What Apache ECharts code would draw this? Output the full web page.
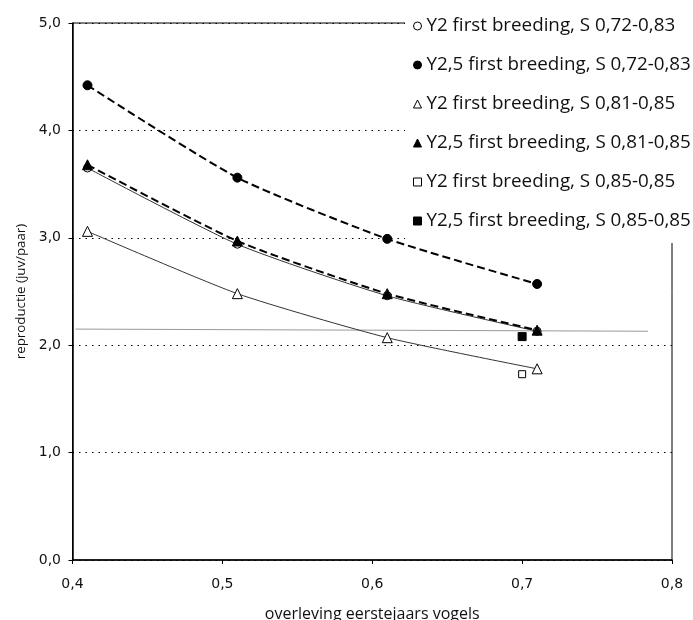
<!DOCTYPE html>
<html>
<head>
<meta charset="utf-8">
<script src="https://cdn.jsdelivr.net/npm/echarts@6/dist/echarts.min.js"></script>
<style>
  html, body { margin: 0; padding: 0; background: #fff; }
  #chart { width: 693px; height: 620px; }
</style>
</head>
<body>
<div id="chart"></div>
<script>
// Survival of first-year birds (x) against required reproduction (y)
const survivalX = [0.41, 0.51, 0.61, 0.71];
const y2Low = [3.65, 2.94, 2.46, 2.13];     // Y2 first breeding, S 0,72-0,83
const y25Low = [4.42, 3.56, 2.99, 2.57];    // Y2,5 first breeding, S 0,72-0,83
const y2Mid = [3.06, 2.48, 2.07, 1.78];     // Y2 first breeding, S 0,81-0,85
const y25Mid = [3.68, 2.97, 2.48, 2.14];    // Y2,5 first breeding, S 0,81-0,85
const singleX = [0.70];
const y2High = [1.73];                      // Y2 first breeding, S 0,85-0,85
const y25High = [2.08];                     // Y2,5 first breeding, S 0,85-0,85
const refX = [0.402, 0.784];                // current reproduction level
const refY = [2.15, 2.13];

const seriesNames = [
  'Y2 first breeding, S 0,72-0,83',
  'Y2,5 first breeding, S 0,72-0,83',
  'Y2 first breeding, S 0,81-0,85',
  'Y2,5 first breeding, S 0,81-0,85',
  'Y2 first breeding, S 0,85-0,85',
  'Y2,5 first breeding, S 0,85-0,85'
];

const pairs = (xs, ys) => xs.map((x, i) => [x, ys[i]]);
const comma = v => v.toFixed(1).replace('.', ',');

const openStyle = { color: '#fff', borderColor: '#000', borderWidth: 1 };
const fillStyle = { color: '#000', borderColor: '#000', borderWidth: 1 };
const thinLine = { color: '#333', width: 1, type: 'solid' };
const dashLine = { color: '#000', width: 2, type: [8, 4] };

const chart = echarts.init(document.getElementById('chart'), null, { renderer: 'canvas' });

chart.setOption({
  animation: false,
  backgroundColor: '#fff',
  grid: {
    left: 72.5, right: 21, top: 23, bottom: 60,
    outerBoundsMode: 'none',
    show: true, borderColor: '#000', borderWidth: 1, backgroundColor: 'transparent'
  },
  xAxis: {
    type: 'value', min: 0.4, max: 0.8, interval: 0.1,
    name: 'overleving eerstejaars vogels',
    nameLocation: 'middle', nameGap: 46,
    nameTextStyle: { fontFamily: 'Open Sans', fontSize: 16, color: '#111' },
    axisLine: { show: true, lineStyle: { color: '#000', width: 1.5 } },
    axisTick: { show: true, inside: false, length: 4, lineStyle: { color: '#000' } },
    axisLabel: { formatter: comma, margin: 17, fontFamily: 'DejaVu Sans', fontSize: 14, color: '#111' },
    splitLine: { show: false }
  },
  yAxis: {
    type: 'value', min: 0, max: 5, interval: 1,
    name: 'reproductie (juv/paar)',
    nameLocation: 'middle', nameGap: 45, nameRotate: 90,
    nameTextStyle: { fontFamily: 'Open Sans', fontSize: 13.3, color: '#111' },
    axisLine: { show: true, lineStyle: { color: '#000', width: 1.5 } },
    axisTick: { show: true, inside: false, length: 4, lineStyle: { color: '#000' } },
    axisLabel: { formatter: comma, margin: 11.5, fontFamily: 'DejaVu Sans', fontSize: 14, color: '#111' },
    splitLine: { show: true, lineStyle: { color: '#000', width: 1, type: [1.5, 5] } }
  },
  legend: {
    orient: 'vertical', left: 405, top: 0,
    padding: [16, 6, 12, 8],
    backgroundColor: '#fff',
    itemWidth: 8, itemHeight: 8, itemGap: 19,
    textStyle: { fontFamily: 'Open Sans', fontSize: 18.8, color: '#111', lineHeight: 20 },
    data: [
      { name: seriesNames[0], icon: 'circle', itemStyle: openStyle },
      { name: seriesNames[1], icon: 'circle', itemStyle: fillStyle },
      { name: seriesNames[2], icon: 'triangle', itemStyle: openStyle },
      { name: seriesNames[3], icon: 'triangle', itemStyle: fillStyle },
      { name: seriesNames[4], icon: 'rect', itemStyle: openStyle },
      { name: seriesNames[5], icon: 'rect', itemStyle: fillStyle }
    ]
  },
  series: [
    {
      name: 'referentie', type: 'line', data: pairs(refX, refY),
      symbol: 'none', silent: true, z: 1,
      lineStyle: { color: '#999', width: 1 }
    },
    {
      name: seriesNames[0], type: 'line', data: pairs(survivalX, y2Low), smooth: 0.2,
      symbol: 'circle', symbolSize: 8, itemStyle: openStyle, lineStyle: thinLine
    },
    {
      name: seriesNames[1], type: 'line', data: pairs(survivalX, y25Low), smooth: 0.2,
      symbol: 'circle', symbolSize: 9, itemStyle: fillStyle, lineStyle: dashLine
    },
    {
      name: seriesNames[2], type: 'line', data: pairs(survivalX, y2Mid), smooth: 0.2,
      symbol: 'triangle', symbolSize: 10, itemStyle: openStyle, lineStyle: thinLine
    },
    {
      name: seriesNames[3], type: 'line', data: pairs(survivalX, y25Mid), smooth: 0.2,
      symbol: 'triangle', symbolSize: 10, itemStyle: fillStyle, lineStyle: dashLine
    },
    {
      name: seriesNames[4], type: 'line', data: pairs(singleX, y2High),
      symbol: 'rect', symbolSize: 7, itemStyle: openStyle, lineStyle: thinLine
    },
    {
      name: seriesNames[5], type: 'line', data: pairs(singleX, y25High),
      symbol: 'rect', symbolSize: 8, itemStyle: fillStyle, lineStyle: dashLine
    }
  ]
});
</script>
</body>
</html>
